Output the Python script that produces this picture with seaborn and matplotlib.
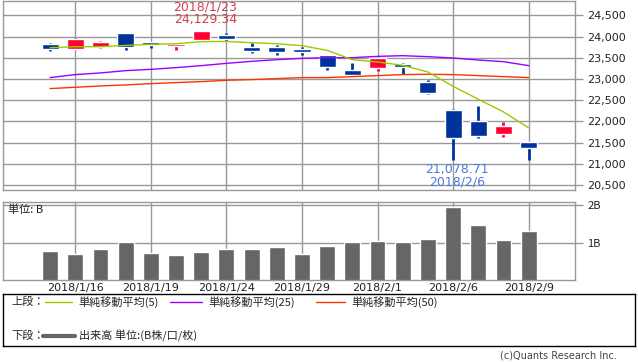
import matplotlib

matplotlib.use("Agg")
import matplotlib.pyplot as plt
import numpy as np
import pandas as pd
import seaborn as sns
from matplotlib.ticker import FuncFormatter

# trading days shown (index 0..19)
dates = ["2018/1/15", "2018/1/16", "2018/1/17", "2018/1/18", "2018/1/19",
         "2018/1/22", "2018/1/23", "2018/1/24", "2018/1/25", "2018/1/26",
         "2018/1/29", "2018/1/30", "2018/1/31", "2018/2/1", "2018/2/2",
         "2018/2/5", "2018/2/6", "2018/2/7", "2018/2/8", "2018/2/9"]

opens = [23818, 23700, 23754, 24076, 23865, 23778, 23919, 24029, 23747, 23747,
         23700, 23559, 23206, 23260, 23363, 22924, 22265, 22006, 21707, 21512]
highs = [23848, 23960, 23895, 24084, 23880, 23834, 24129.34, 24076, 23848, 23794,
         23754, 23570, 23378, 23500, 23380, 22971, 22296, 22359, 21982, 21512]
lows = [23660, 23700, 23731, 23676, 23730, 23676, 23888, 23895, 23613, 23566,
        23575, 23222, 23065, 23190, 23112, 22641, 21078.71, 21620, 21637, 21088]
closes = [23715, 23952, 23868, 23763, 23808, 23816, 24124, 23941, 23669, 23632,
          23629, 23292, 23098, 23486, 23275, 22682, 21610, 21645, 21891, 21383]

ma5 = [23740, 23763, 23763, 23794, 23818, 23834, 23881, 23888, 23857, 23834,
       23787, 23676, 23457, 23402, 23324, 23166, 22829, 22524, 22225, 21848]
ma25 = [23034, 23105, 23144, 23198, 23229, 23269, 23316, 23370, 23418, 23457,
        23488, 23504, 23504, 23535, 23551, 23528, 23496, 23449, 23410, 23316]
ma50 = [22775, 22806, 22837, 22861, 22892, 22916, 22939, 22971, 22987, 23010,
        23034, 23034, 23057, 23081, 23105, 23112, 23105, 23081, 23057, 23034]

# volume in billions of shares
volume = [0.80, 0.72, 0.85, 1.03, 0.75, 0.69, 0.77, 0.85, 0.85, 0.90,
          0.72, 0.93, 1.03, 1.06, 1.03, 1.11, 1.95, 1.48, 1.09, 1.32]

price_ticks = [20500, 21000, 21500, 22000, 22500, 23000, 23500, 24000, 24500]
grid_days = [1, 4, 7, 10, 13, 16, 19]

UP = "#ff0033"
DOWN = "#003399"
GRID = "#999999"

sns.set_style("white")
plt.rcParams["font.family"] = ["Noto Sans CJK JP", "DejaVu Sans"]

df = pd.DataFrame({"day": np.arange(len(dates)), "open": opens, "high": highs,
                   "low": lows, "close": closes, "ma5": ma5, "ma25": ma25,
                   "ma50": ma50, "volume": volume})
df["up"] = df["close"] >= df["open"]
df["color"] = np.where(df["up"], UP, DOWN)

W, H = 638, 362
fig = plt.figure(figsize=(W / 100, H / 100), dpi=100)
ax = fig.add_axes([3 / W, 1 - 190 / H, 572 / W, 189.5 / H])
ax2 = fig.add_axes([3 / W, 1 - 280 / H, 572 / W, 78.3 / H])
leg = fig.add_axes([3 / W, 1 - 346 / H, 632 / W, 52 / H])

xlim = (-1.87, 20.84)

# ---- price panel ----
for x in grid_days:
    ax.axvline(x, color=GRID, lw=1, zorder=0)
for y in price_ticks:
    ax.axhline(y, color=GRID, lw=1, zorder=0)

ax.vlines(df["day"], df["low"], df["high"], colors=df["color"], lw=2, zorder=2)
ax.bar(df["day"], (df["close"] - df["open"]).abs().clip(lower=10),
       bottom=df[["open", "close"]].min(axis=1), width=0.68,
       color=df["color"], zorder=3)

sns.lineplot(data=df, x="day", y="ma50", color="#ff3300", lw=1, ax=ax, zorder=4)
sns.lineplot(data=df, x="day", y="ma25", color="#9900ff", lw=1, ax=ax, zorder=4)
sns.lineplot(data=df, x="day", y="ma5", color="#99cc00", lw=1, ax=ax, zorder=4)

hi = int(np.argmax(highs))
lo = int(np.argmin(lows))
ax.annotate(f"{dates[hi]}\n{highs[hi]:,.2f}", (hi, highs[hi]), xytext=(3, 4),
            textcoords="offset points", ha="center", va="bottom",
            fontsize=9, color="#d04050", linespacing=0.95, family="DejaVu Sans")
ax.annotate(f"{lows[lo]:,.2f}\n{dates[lo]}", (lo, lows[lo]), xytext=(3, -2),
            textcoords="offset points", ha="center", va="top",
            fontsize=9, color="#4a78e0", linespacing=0.95, family="DejaVu Sans")

ax.set_xlim(*xlim)
ax.set_ylim(20382, 24853)
ax.set_xticks([])
ax.yaxis.tick_right()
ax.set_yticks(price_ticks)
ax.yaxis.set_major_formatter(FuncFormatter(lambda v, p: f"{v:,.0f}"))
ax.tick_params(axis="y", length=6, width=1, color=GRID, pad=3,
               labelsize=8, labelcolor="#222222")
for lab in ax.get_yticklabels():
    lab.set_family("DejaVu Sans")
ax.set_xlabel("")
ax.set_ylabel("")
for s in ax.spines.values():
    s.set_color(GRID)
    s.set_linewidth(1)

# ---- volume panel ----
for x in grid_days:
    ax2.axvline(x, color=GRID, lw=1, zorder=0)
for y in [1, 2]:
    ax2.axhline(y, color=GRID, lw=1, zorder=0)
sns.barplot(data=df, x="day", y="volume", native_scale=True, color="#666666",
            saturation=1, width=0.63, ax=ax2, zorder=2)
ax2.set_xlim(*xlim)
ax2.set_ylim(0.04, 2.09)
ax2.yaxis.tick_right()
ax2.set_yticks([1, 2])
ax2.set_yticklabels(["1B", "2B"])
ax2.tick_params(axis="y", length=6, width=1, color=GRID, pad=3,
                labelsize=8, labelcolor="#222222")
ax2.set_xticks(grid_days)
ax2.set_xticklabels([dates[i] for i in grid_days])
ax2.tick_params(axis="x", length=0, pad=2, labelsize=8, labelcolor="#222222")
for lab in ax2.get_xticklabels():
    lab.set_family("DejaVu Sans")
ax2.set_xlabel("")
ax2.set_ylabel("")
ax2.text(0.008, 0.97, "単位: B", transform=ax2.transAxes, va="top", ha="left",
         fontsize=8, color="#222222")
for s in ax2.spines.values():
    s.set_color(GRID)
    s.set_linewidth(1)

# ---- legend box ----
leg.set_xlim(0, 632)
leg.set_ylim(52, 0)
leg.set_xticks([])
leg.set_yticks([])
for s in leg.spines.values():
    s.set_color("black")
    s.set_linewidth(1)

row1, row2 = 8, 42
leg.text(8, row1, "上段：", va="center", fontsize=8)
entries = [(42, 69, "#99cc00", "単純移動平均(5)"),
           (167, 199, "#9900ff", "単純移動平均(25)"),
           (313, 342, "#ff3300", "単純移動平均(50)")]
for x0, x1, c, name in entries:
    leg.plot([x0, x1], [row1, row1], color=c, lw=1)
    leg.text(x1 + 6, row1, name, va="center", fontsize=8)
leg.text(8, row2, "下段：", va="center", fontsize=8)
leg.plot([40, 72], [row2, row2], color="#666666", lw=3)
leg.text(76, row2, "出来高 単位:(B株/口/枚)", va="center", fontsize=8)

fig.text(617 / W, 1 - 355 / H, "(c)Quants Research Inc.", ha="right",
         va="center", fontsize=7, color="#444444", family="DejaVu Sans")

fig.savefig("out.png", dpi=100)
